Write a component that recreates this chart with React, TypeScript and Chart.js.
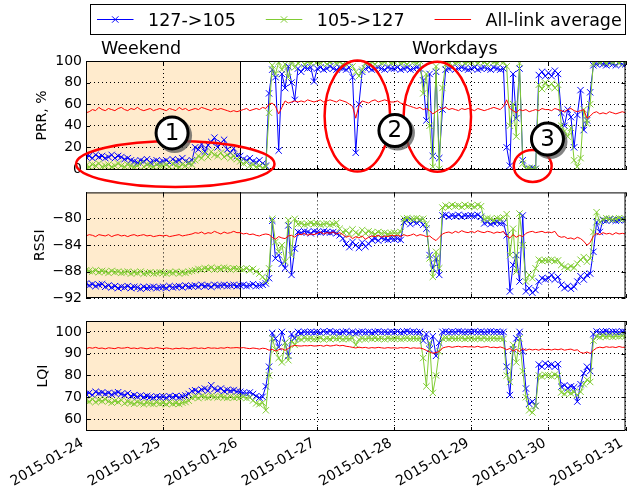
import React, { useEffect, useRef } from "react";
import { Chart, registerables } from "chart.js";

Chart.register(...registerables);

// ---------------------------------------------------------------------------
// Data: hourly samples from 2015-01-24 00:00 to 2015-01-31 00:00 (169 points)
// ---------------------------------------------------------------------------

const DAY_LABELS = [
  "2015-01-24",
  "2015-01-25",
  "2015-01-26",
  "2015-01-27",
  "2015-01-28",
  "2015-01-29",
  "2015-01-30",
  "2015-01-31",
];

const SERIES_LABELS = ["127->105", "105->127", "All-link average"];

const WEEKEND_END_HOUR = 48;

const PRR_TICKS = [0, 20, 40, 60, 80, 100];
const RSSI_TICKS = [-92, -88, -84, -80];
const LQI_TICKS = [60, 70, 80, 90, 100];

// Packet reception ratio, %
const PRR_127_105 = [
  11, 12, 10, 13, 11, 12, 10, 11, 13, 10, 12, 11, 9, 10, 8, 7, 6, 8, 7, 9, 6, 7, 8, 6,
  7, 8, 6, 9, 7, 8, 10, 7, 6, 8, 20, 18, 23, 16, 22, 25, 29, 20, 24, 27, 18, 15, 19, 12,
  12, 9, 8, 10, 7, 6, 8, 5, 3, 70, 92, 85, 17, 88, 75, 95, 80, 64, 93, 90, 94, 93, 94, 81,
  93, 94, 92, 93, 95, 93, 92, 94, 93, 92, 94, 85, 15, 60, 90, 93, 94, 92, 93, 94, 93, 92, 94, 93,
  93, 94, 92, 93, 94, 92, 93, 94, 93, 82, 45, 88, 12, 90, 10, 55, 92, 93, 94, 92, 93, 94, 93, 92,
  93, 94, 92, 93, 94, 93, 92, 94, 93, 92, 93, 20, 3, 88, 47, 93, 8, 0, 0, 1, 0, 87, 90, 86,
  89, 86, 91, 88, 52, 40, 55, 48, 20, 50, 73, 36, 45, 71, 96, 97, 98, 97, 96, 98, 97, 96, 98, 97,
  97,
];

const PRR_105_127 = [
  3, 2, 4, 3, 5, 2, 3, 4, 2, 3, 5, 3, 2, 4, 3, 2, 3, 5, 2, 4, 3, 2, 4, 3,
  3, 4, 2, 5, 3, 2, 4, 3, 5, 4, 8, 12, 10, 14, 11, 16, 13, 12, 15, 11, 13, 10, 12, 9,
  7, 5, 6, 3, 4, 2, 3, 1, 2, 52, 96, 88, 99, 92, 97, 85, 100, 94, 98, 100, 97, 99, 98, 100,
  99, 98, 100, 97, 99, 100, 98, 99, 97, 100, 98, 95, 90, 86, 92, 98, 100, 99, 97, 100, 98, 99, 100, 98,
  99, 100, 98, 99, 97, 100, 99, 98, 100, 70, 88, 40, 2, 95, 0, 75, 97, 99, 100, 98, 99, 100, 98, 99,
  99, 100, 98, 100, 99, 97, 100, 99, 98, 100, 99, 95, 40, 60, 30, 98, 5, 0, 1, 0, 0, 78, 74, 80,
  76, 79, 75, 78, 40, 35, 30, 38, 8, 2, 10, 55, 42, 60, 98, 100, 99, 100, 98, 100, 99, 100, 98, 100,
  99,
];

const PRR_AVG = [
  52, 53, 55, 54, 57, 55, 54, 56, 55, 54, 56, 57, 55, 54, 56, 55, 57, 55, 54, 55, 56, 54, 55, 56,
  55, 54, 56, 55, 54, 57, 55, 56, 54, 55, 56, 55, 57, 56, 55, 54, 56, 55, 56, 55, 54, 53, 54, 53,
  54, 55, 56, 54, 55, 56, 55, 57, 56, 60, 61, 58, 51, 57, 63, 61, 62, 63, 62, 63, 62, 64, 63, 62,
  63, 64, 62, 63, 64, 63, 62, 64, 63, 62, 60, 58, 47, 59, 63, 62, 61, 63, 64, 62, 63, 64, 63, 62,
  62, 63, 61, 60, 59, 58, 57, 56, 57, 55, 56, 54, 51, 53, 55, 56, 57, 55, 56, 55, 54, 56, 55, 56,
  55, 54, 56, 55, 54, 55, 56, 57, 56, 55, 58, 64, 56, 54, 52, 55, 54, 55, 53, 54, 55, 54, 56, 55,
  55, 54, 56, 55, 54, 53, 55, 56, 54, 53, 54, 55, 47, 49, 52, 53, 51, 52, 51, 53, 52, 51, 52, 53,
  52,
];

// Received signal strength, dBm
const RSSI_127_105 = [
  -89.8, -90.1, -89.9, -90.2, -90, -89.9, -90.3, -90.1, -90.4, -90.2, -90.5, -90.3, -90.4, -90.2, -90.5, -90.3, -90.4, -90.6, -90.3, -90.5, -90.4, -90.3, -90.5, -90.4,
  -90.3, -90.5, -90.2, -90.4, -90.3, -90.2, -90.4, -90.1, -90.3, -90.2, -90.1, -90.3, -90, -90.2, -90.1, -90.3, -90, -90.2, -90.1, -90, -90.2, -90.1, -90, -90.2,
  -90.1, -90, -90.2, -90.1, -89.9, -90.2, -90.1, -90, -89.8, -89, -80.3, -86, -85.5, -86.8, -87.5, -81, -88.5, -84.5, -82, -82.1, -81.9, -82, -82.2, -81.9,
  -82, -82.1, -81.9, -82, -82.1, -82, -82.2, -82.5, -83, -83.8, -84.3, -83.5, -84, -84.4, -83.6, -84.2, -83.8, -83.2, -83, -83.3, -82.9, -83.1, -83.2, -83,
  -83.1, -83, -83.2, -80.5, -80.2, -80.8, -80.4, -80.6, -80.3, -80.9, -81.5, -85.5, -87.5, -86, -88.5, -79.5, -79.4, -79.7, -79.5, -79.6, -79.4, -79.7, -79.5, -79.6,
  -79.5, -79.6, -79.4, -79.7, -80.7, -80.5, -80.8, -80.6, -80.5, -80.7, -80.6, -82.5, -91, -87, -85.5, -89.5, -79.5, -91, -90.5, -91.2, -90.8, -89.5, -89, -89.2,
  -89, -88.5, -89.2, -88.8, -90, -90.5, -90.2, -90.6, -90.3, -89.5, -88.7, -89.2, -88.5, -88.3, -85, -80.5, -82, -80.2, -80.3, -80.1, -80.2, -80.3, -80.2, -80.1,
  -80.2,
];

const RSSI_105_127 = [
  -87.8, -87.9, -88, -87.8, -88.1, -87.9, -88, -88.2, -87.9, -88.1, -88, -88.2, -88.1, -88, -88.3, -88.1, -88.2, -88, -88.3, -88.2, -88.1, -88.3, -88.2, -88.1,
  -88.2, -88.3, -88.1, -88.2, -88, -88.3, -88.1, -88.2, -88, -87.9, -87.8, -87.6, -87.7, -87.5, -87.6, -87.4, -87.7, -87.5, -87.6, -87.4, -87.5, -87.7, -87.5, -87.6,
  -87.6, -87.7, -87.5, -87.8, -87.6, -88, -88.3, -88.8, -89.4, -87.5, -80, -83.5, -85, -84, -86.5, -80.2, -85.5, -80, -80.8, -80.7, -80.9, -80.8, -80.6, -80.8,
  -80.7, -80.9, -80.8, -80.7, -80.9, -80.8, -80.6, -81.5, -82, -81.8, -82.3, -81.6, -82.1, -82.4, -81.7, -82.2, -81.9, -82.1, -82.3, -82, -82.2, -82.1, -82.3, -82.2,
  -82.1, -82.2, -82, -80, -79.9, -80.1, -80, -79.9, -80.1, -80, -80.8, -86, -88.8, -85, -87.5, -78.3, -78, -78.2, -77.9, -78.1, -78, -78.2, -77.9, -78.1,
  -78, -78.2, -77.9, -78.1, -80.1, -79.9, -80, -80.2, -79.9, -80, -79.8, -79.3, -85.5, -81.5, -88, -79.2, -84, -89.5, -88.5, -89, -87.5, -86.2, -86.4, -86.3,
  -86.3, -86.2, -86.4, -86.3, -87, -87.3, -87.5, -87.2, -87.4, -86.8, -86.2, -85.8, -86.5, -86, -82, -79, -80.5, -80.1, -79.9, -80, -80.1, -80, -79.9, -80.1,
  -80,
];

const RSSI_AVG = [
  -82.6, -82.4, -82.5, -82.7, -82.4, -82.5, -82.6, -82.4, -82.7, -82.5, -82.4, -82.6, -82.5, -82.7, -82.5, -82.4, -82.6, -82.5, -82.4, -82.6, -82.5, -82.7, -82.6, -82.5,
  -82.6, -82.5, -82.7, -82.6, -82.5, -82.4, -82.6, -82.5, -82.4, -82.3, -82.1, -82.2, -82, -82.3, -82.1, -82.2, -81.9, -82.1, -82.3, -82, -82.2, -82.1, -81.9, -82.1,
  -82.1, -82.3, -82.2, -82.4, -82.3, -82.5, -82.6, -82.4, -82.3, -82.4, -82.8, -83.1, -82.7, -82.9, -83, -82.6, -82.5, -82.8, -82.3, -82.4, -82.2, -82.5, -82.3, -82.4,
  -82.2, -82, -82.3, -82.1, -82.2, -82, -82.3, -82.1, -82.4, -82.8, -82.6, -83, -82.7, -82.9, -82.6, -83.1, -82.8, -82.6, -82.7, -82.5, -82.8, -82.6, -82.7, -82.5,
  -82.6, -82.5, -82.7, -82.4, -82.6, -82.5, -82.3, -82.6, -82.4, -82.5, -82.7, -82.6, -83, -83.3, -82.8, -82.3, -82.1, -82, -82.2, -81.9, -82.1, -81.8, -82, -82.1,
  -81.9, -82.1, -81.8, -82, -82.1, -81.9, -82, -82.2, -82, -82.1, -81.9, -82.6, -82.9, -82.4, -82.8, -82.5, -82.7, -82.2, -82, -81.9, -82.1, -82, -81.9, -82.1,
  -82, -82.1, -81.9, -82.6, -82.8, -82.7, -83, -82.9, -83.1, -82.8, -83, -83.4, -84, -83.6, -82.6, -82.2, -82.4, -82.1, -82.3, -82.2, -82.4, -82.1, -82.3, -82.2,
  -82.3,
];

// Link quality indicator
const LQI_127_105 = [
  71.5, 72, 71, 72.5, 71.8, 72.2, 71.5, 72, 71.2, 71.8, 72.3, 71.5, 71, 71.8, 70.5, 71, 70.2, 70.8, 70, 70.6, 70.2, 69.8, 70.4, 70,
  70.3, 69.8, 70.5, 70, 70.6, 69.9, 70.4, 70.8, 71.5, 72.8, 73.2, 72.5, 73.5, 74, 73, 75.5, 73.8, 73.2, 74, 72.8, 73.4, 72.9, 73.3, 72.6,
  72.5, 72, 71.8, 72.2, 71.5, 70.5, 69.8, 70.2, 75, 84, 99.5, 97, 93, 100, 95, 89, 99, 97, 100, 99.5, 100, 99.8, 100, 99.7,
  100, 99.6, 100.2, 99.8, 100.3, 99.7, 100, 99.5, 99.9, 100.2, 99.6, 100, 99.4, 99.8, 100.1, 99.7, 100, 99.6, 99.9, 100.2, 99.8, 100, 99.7, 100.1,
  99.8, 100.2, 99.7, 100, 100.3, 99.9, 100.1, 99.8, 100, 96, 99, 92, 98, 89, 95, 100, 100.2, 99.8, 100.1, 99.9, 100.3, 100, 99.8, 100.1,
  100, 100.2, 99.9, 100.1, 99.8, 100, 100.2, 99.9, 100.1, 99.8, 100, 84, 71, 92, 97, 100, 91, 74, 67, 68, 66, 85, 84, 85.5,
  84.5, 85, 84, 85.2, 74.8, 75.5, 74.2, 75, 74.6, 68, 76, 81, 84, 82, 99, 100.2, 99.8, 100, 100.3, 99.9, 100.1, 100, 99.8, 100.2,
  100,
];

const LQI_105_127 = [
  68.5, 68, 69, 67.8, 68.6, 68.2, 69, 68.1, 67.5, 68.3, 67.8, 68.6, 67.2, 68, 67.5, 67, 67.8, 67.3, 66.8, 67.5, 67.2, 66.9, 67.6, 67.1,
  67.4, 66.8, 67.6, 67, 67.3, 66.9, 67.5, 67.8, 68.4, 69.8, 70.2, 69.6, 70.5, 70.1, 69.8, 70.6, 70.2, 69.9, 70.4, 70, 69.7, 70.3, 69.8, 70.1,
  69.9, 70.2, 69.6, 69.8, 68.5, 67.2, 66.8, 67.5, 64, 80, 97, 92, 88, 86, 95, 87, 96, 94, 97, 96.5, 97.2, 96.8, 97, 96.6,
  96.8, 97.2, 96.5, 97, 96.7, 97.3, 96.9, 97.1, 96.6, 97, 96.8, 97.2, 94, 96.5, 97, 96.7, 97.1, 96.9, 97.2, 96.8, 97, 96.6, 97.1, 96.9,
  96.9, 97.1, 96.7, 97, 97.2, 96.8, 97, 96.9, 97.1, 88, 75, 95, 72, 80, 91, 97, 97.2, 96.8, 97.1, 96.9, 97, 97.2, 96.8, 97.1,
  97, 96.8, 97.1, 96.9, 97.2, 96.8, 97, 97.1, 96.9, 97, 96.8, 80, 77, 94, 86, 97, 82, 70, 64, 63, 66, 80, 79.5, 80.3,
  80, 79.6, 80.4, 79.8, 72.2, 71.5, 72.6, 71.8, 72.4, 71, 72.5, 76, 78, 77, 96, 98, 97.6, 98.2, 97.8, 98.1, 97.7, 98, 97.9, 98.2,
  98,
];

const LQI_AVG = [
  92.3, 92.8, 92.5, 92.9, 92.4, 92.6, 92.2, 92.7, 92.5, 92.3, 92.8, 92.5, 92.6, 92.9, 92.4, 92.6, 92.3, 92.7, 92.5, 92.2, 92.6, 92.4, 92.8, 92.5,
  92.3, 92.6, 92.4, 92.1, 92.5, 92.3, 92.6, 92.4, 92.2, 92.5, 92.7, 92.4, 92.6, 92.3, 92.8, 92.5, 92.6, 92.4, 92.7, 92.5, 92.9, 92.6, 92.7, 92.8,
  92.6, 92.8, 92.5, 92.3, 92.6, 92.4, 92.1, 92.5, 92.3, 91.6, 92, 91.2, 91.8, 92.3, 91.5, 92.4, 93.4, 93.8, 93.6, 93.5, 93.7, 93.6, 93.8, 93.5,
  93.6, 93.8, 93.4, 93.9, 93.5, 93.7, 94, 93.6, 93.8, 93.4, 93.2, 92.9, 92.6, 93, 92.7, 92.9, 92.5, 92.8, 92.6, 92.9, 92.7, 92.5, 92.8, 92.6,
  92.7, 92.5, 92.8, 92.6, 92.9, 92.4, 92.7, 92.5, 92.6, 92.2, 91.5, 90.8, 90.2, 90.5, 91, 92.6, 93, 93.3, 92.9, 93.2, 93.4, 93, 93.3, 93.1,
  93.2, 93, 93.4, 92.9, 93.1, 93.3, 92.8, 93, 92.7, 93.1, 92.6, 91.8, 92.4, 91.2, 92, 91, 92.3, 91.5, 92.1, 91.7, 92, 91.6, 92.2, 91.8,
  92, 91.7, 92.1, 91.8, 92.2, 91.6, 91.9, 92.1, 91.5, 91.8, 90.6, 90.2, 90.8, 90.1, 91.5, 92.6, 93, 92.7, 93.2, 92.9, 93.1, 92.8, 93.3, 92.9,
  93,
];

// Highlighted regions on the PRR panel (centre in hours / PRR %, radii in the same units)
const HIGHLIGHTS = [
  { x: 27.8, y: 4.6, rx: 30.9, ry: 21.3 },
  { x: 84.5, y: 49.0, rx: 10.2, ry: 51.4 },
  { x: 109.4, y: 48.4, rx: 10.5, ry: 51.0 },
  { x: 139.1, y: 2.7, rx: 5.9, ry: 14.8 },
];

const BADGES = [
  { text: "1", x: 26.8, y: 33.3 },
  { text: "2", x: 96.2, y: 35.6 },
  { text: "3", x: 143.7, y: 27.7 },
];

const PERIOD_TITLES = [
  { text: "Weekend", x: 4.65 },
  { text: "Workdays", x: 101.5 },
];

// ---------------------------------------------------------------------------
// Styling
// ---------------------------------------------------------------------------

const FONT = "'DejaVu Sans', 'Liberation Sans', sans-serif";
const SERIES_COLORS = ["#0000ff", "#80cc33", "#ff0000"];
const WEEKEND_FILL = "#ffebcd";
const WIDTH = 631;
const HEIGHT = 488;
const Y_AXIS_WIDTH = 86;
const RIGHT_PAD = 2;
const TICK_LEN = 4;
const DAY_TICKS = DAY_LABELS.map((_, i) => i * 24);
const LAST_HOUR = DAY_TICKS[DAY_TICKS.length - 1];

type Panel = {
  key: string;
  title: string;
  titleX: number;
  series: number[][];
  min: number;
  max: number;
  ticks: number[];
  top: number;
  height: number;
  padTop: number;
  xAxisHeight: number;
};

const PANELS: Panel[] = [
  {
    key: "prr",
    title: "PRR, %",
    titleX: 45.5,
    series: [PRR_127_105, PRR_105_127, PRR_AVG],
    min: -1,
    max: 100,
    ticks: PRR_TICKS,
    top: 0,
    height: 195,
    padTop: 61,
    xAxisHeight: 25,
  },
  {
    key: "rssi",
    title: "RSSI",
    titleX: 44,
    series: [RSSI_127_105, RSSI_105_127, RSSI_AVG],
    min: -92,
    max: -76,
    ticks: RSSI_TICKS,
    top: 180,
    height: 132,
    padTop: 11,
    xAxisHeight: 14,
  },
  {
    key: "lqi",
    title: "LQI",
    titleX: 46.5,
    series: [LQI_127_105, LQI_105_127, LQI_AVG],
    min: 54.5,
    max: 105,
    ticks: LQI_TICKS,
    top: 305,
    height: 183,
    padTop: 16,
    xAxisHeight: 57,
  },
];

const fmtTick = (v: number) => (v < 0 ? "\u2212" + Math.abs(v) : String(v));

function drawCross(ctx: CanvasRenderingContext2D, x: number, y: number, r: number) {
  ctx.beginPath();
  ctx.moveTo(x - r, y - r);
  ctx.lineTo(x + r, y + r);
  ctx.moveTo(x - r, y + r);
  ctx.lineTo(x + r, y - r);
  ctx.stroke();
}

function decorPlugin(panel: Panel, index: number) {
  const isFirst = index === 0;
  const isLast = index === PANELS.length - 1;
  return {
    id: "panelDecor" + index,
    beforeDraw(chart: any) {
      const { ctx, chartArea: a, scales } = chart;
      const x0 = scales.x.getPixelForValue(0);
      const x1 = scales.x.getPixelForValue(WEEKEND_END_HOUR);
      ctx.save();
      ctx.fillStyle = WEEKEND_FILL;
      ctx.fillRect(x0, a.top, x1 - x0, a.bottom - a.top);
      ctx.restore();
    },
    beforeDatasetsDraw(chart: any) {
      const { ctx, chartArea: a, scales } = chart;
      const xb = Math.round(scales.x.getPixelForValue(WEEKEND_END_HOUR)) + 0.5;
      ctx.save();
      ctx.strokeStyle = "#000";
      ctx.lineWidth = 1;
      ctx.beginPath();
      ctx.moveTo(xb, a.top);
      ctx.lineTo(xb, a.bottom);
      ctx.stroke();
      ctx.restore();
    },
    afterDatasetsDraw(chart: any) {
      const { ctx, chartArea: a, scales } = chart;
      ctx.save();
      ctx.strokeStyle = "#000";
      ctx.lineWidth = 1;
      ctx.strokeRect(a.left + 0.5, a.top + 0.5, a.right - a.left - 1, a.bottom - a.top - 1);
      ctx.beginPath();
      DAY_TICKS.forEach((h) => {
        const x = Math.round(scales.x.getPixelForValue(h)) + 0.5;
        ctx.moveTo(x, a.top);
        ctx.lineTo(x, a.top + TICK_LEN);
        ctx.moveTo(x, a.bottom);
        ctx.lineTo(x, a.bottom - TICK_LEN);
      });
      panel.ticks.forEach((v) => {
        const y = Math.round(scales.y.getPixelForValue(v)) + 0.5;
        ctx.moveTo(a.left, y);
        ctx.lineTo(a.left + TICK_LEN, y);
        ctx.moveTo(a.right, y);
        ctx.lineTo(a.right - TICK_LEN, y);
      });
      ctx.stroke();
      ctx.restore();
    },
    afterDraw(chart: any) {
      const { ctx, chartArea: a, scales } = chart;
      ctx.save();
      ctx.fillStyle = "#000";

      // y-axis title
      ctx.font = `14px ${FONT}`;
      ctx.translate(panel.titleX, (a.top + a.bottom) / 2);
      ctx.rotate(-Math.PI / 2);
      ctx.textAlign = "center";
      ctx.textBaseline = "alphabetic";
      ctx.fillText(panel.title, 0, 0);
      ctx.restore();

      if (isFirst) {
        ctx.save();
        // legend
        const box = { x: 90.5, y: 4.5, w: 535, h: 30 };
        ctx.fillStyle = "#fff";
        ctx.fillRect(box.x, box.y, box.w, box.h);
        ctx.strokeStyle = "#000";
        ctx.lineWidth = 1;
        ctx.strokeRect(box.x, box.y, box.w, box.h);
        ctx.font = `17.5px ${FONT}`;
        ctx.textAlign = "left";
        ctx.textBaseline = "alphabetic";
        let x = 97;
        chart.data.datasets.forEach((ds: any, k: number) => {
          const ly = 19.5;
          ctx.strokeStyle = ds.borderColor;
          ctx.lineWidth = 1;
          ctx.beginPath();
          ctx.moveTo(x, ly);
          ctx.lineTo(x + 36.5, ly);
          ctx.stroke();
          if (k < 2) drawCross(ctx, x + 18.25, ly, 3.2);
          const tx = x + 51;
          ctx.fillStyle = "#000";
          ctx.fillText(ds.label, tx, 25.7);
          x = tx + ctx.measureText(ds.label).width + 30;
        });

        // period titles
        PERIOD_TITLES.forEach((t) => {
          ctx.fillText(t.text, scales.x.getPixelForValue(t.x), a.top - 7);
        });

        // highlighted regions
        ctx.strokeStyle = "#ff0000";
        ctx.lineWidth = 2.5;
        HIGHLIGHTS.forEach((e) => {
          const cx = scales.x.getPixelForValue(e.x);
          const cy = scales.y.getPixelForValue(e.y);
          const rx = Math.abs(scales.x.getPixelForValue(e.x + e.rx) - cx);
          const ry = Math.abs(scales.y.getPixelForValue(e.y + e.ry) - cy);
          ctx.beginPath();
          ctx.ellipse(cx, cy, rx, ry, 0, 0, Math.PI * 2);
          ctx.stroke();
        });

        // numbered badges
        BADGES.forEach((b) => {
          const cx = scales.x.getPixelForValue(b.x);
          const cy = scales.y.getPixelForValue(b.y);
          const r = 16;
          ctx.fillStyle = "rgba(90,90,90,0.75)";
          ctx.beginPath();
          ctx.arc(cx + 2.5, cy + 2.5, r + 1.5, 0, Math.PI * 2);
          ctx.fill();
          ctx.fillStyle = "#fff";
          ctx.strokeStyle = "#000";
          ctx.lineWidth = 3;
          ctx.beginPath();
          ctx.arc(cx, cy, r, 0, Math.PI * 2);
          ctx.fill();
          ctx.stroke();
          ctx.fillStyle = "#000";
          ctx.font = `23px ${FONT}`;
          ctx.textAlign = "center";
          ctx.textBaseline = "middle";
          ctx.fillText(b.text, cx, cy + 1);
        });
        ctx.restore();
      }

      if (isLast) {
        ctx.save();
        ctx.fillStyle = "#000";
        ctx.font = `14px ${FONT}`;
        ctx.textAlign = "right";
        ctx.textBaseline = "top";
        DAY_LABELS.forEach((lab, i) => {
          const tx = scales.x.getPixelForValue(DAY_TICKS[i]);
          ctx.save();
          ctx.translate(tx - 7, a.bottom + 5);
          ctx.rotate(-Math.PI / 6);
          ctx.fillText(lab, 0, 0);
          ctx.restore();
        });
        ctx.restore();
      }
    },
  };
}

function buildConfig(panel: Panel, index: number): any {
  const datasets = panel.series.map((vals, k) => ({
    label: SERIES_LABELS[k],
    data: vals.map((v, i) => ({ x: i, y: v })),
    borderColor: SERIES_COLORS[k],
    backgroundColor: SERIES_COLORS[k],
    borderWidth: 1,
    pointStyle: "crossRot",
    pointRadius: k < 2 ? 4.5 : 0,
    pointBorderWidth: 1,
    pointBorderColor: SERIES_COLORS[k],
    tension: 0,
    order: 3 - k,
    clip: 0,
  }));

  return {
    type: "line",
    data: { datasets },
    plugins: [decorPlugin(panel, index)],
    options: {
      responsive: false,
      animation: false,
      events: [],
      layout: { padding: { top: panel.padTop, right: RIGHT_PAD, left: 0, bottom: 0 } },
      plugins: { legend: { display: false }, tooltip: { enabled: false } },
      scales: {
        x: {
          type: "linear",
          min: 0,
          max: LAST_HOUR,
          bounds: "data",
          afterBuildTicks: (s: any) => {
            s.ticks = DAY_TICKS.map((v) => ({ value: v }));
          },
          afterFit: (s: any) => {
            s.height = panel.xAxisHeight;
          },
          ticks: { display: false },
          grid: { color: "#000", lineWidth: 1, drawTicks: false },
          border: { display: false, dash: [1, 3] },
        },
        y: {
          type: "linear",
          min: panel.min,
          max: panel.max,
          bounds: "data",
          afterBuildTicks: (s: any) => {
            s.ticks = panel.ticks.map((v) => ({ value: v }));
          },
          afterFit: (s: any) => {
            s.width = Y_AXIS_WIDTH;
          },
          ticks: {
            color: "#000",
            padding: 4,
            font: { family: FONT, size: 14 },
            callback: (v: any) => fmtTick(Number(v)),
          },
          grid: { color: "#000", lineWidth: 1, drawTicks: false },
          border: { display: false, dash: [1, 3] },
        },
      },
    },
  };
}

export default function App() {
  const r0 = useRef<HTMLCanvasElement>(null);
  const r1 = useRef<HTMLCanvasElement>(null);
  const r2 = useRef<HTMLCanvasElement>(null);
  const refs = [r0, r1, r2];

  useEffect(() => {
    const charts = PANELS.map((p, i) => new Chart(refs[i].current as HTMLCanvasElement, buildConfig(p, i)));
    return () => charts.forEach((c) => c.destroy());
  }, []);

  return (
    <div
      style={{
        position: "fixed",
        left: 0,
        top: 0,
        width: WIDTH,
        height: HEIGHT,
        background: "#fff",
        overflow: "hidden",
      }}
    >
      {PANELS.map((p, i) => (
        <canvas
          key={p.key}
          ref={refs[i]}
          width={WIDTH}
          height={p.height}
          style={{ position: "absolute", left: 0, top: p.top, width: WIDTH, height: p.height }}
        />
      ))}
    </div>
  );
}
